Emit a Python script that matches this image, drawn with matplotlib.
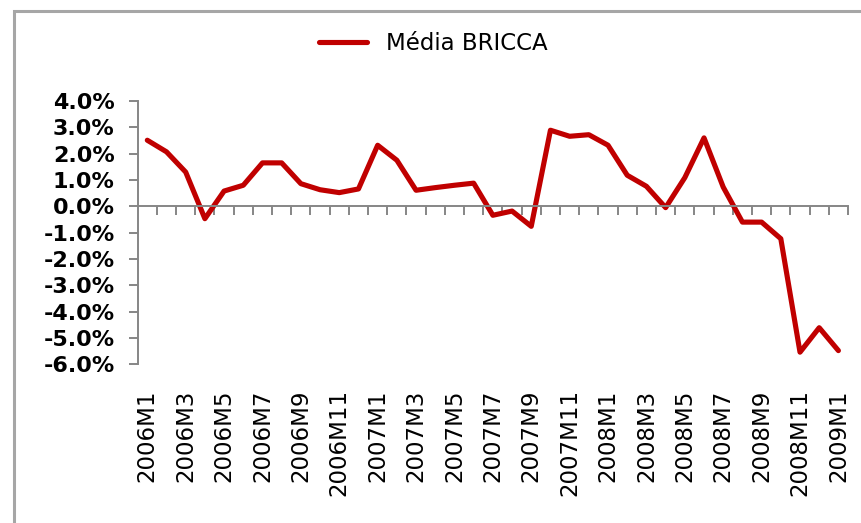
#!/usr/bin/env python
# coding=utf-8

import matplotlib
matplotlib.use('Agg')
import matplotlib.pyplot as plt
from matplotlib.patches import Rectangle

# monthly labels 2006M1 .. 2009M1
months = ['%dM%d' % (2006 + i // 12, i % 12 + 1) for i in range(37)]

# Média BRICCA, in percent
bricca = [2.51, 2.07, 1.30, -0.47, 0.58, 0.80, 1.65, 1.65, 0.86, 0.63,
          0.52, 0.66, 2.32, 1.75, 0.61, 0.71, 0.80, 0.88, -0.34, -0.18,
          -0.76, 2.89, 2.66, 2.72, 2.32, 1.18, 0.76, -0.05, 1.09, 2.60,
          0.73, -0.60, -0.60, -1.23, -5.54, -4.61, -5.48]

yticks = [4, 3, 2, 1, 0, -1, -2, -3, -4, -5, -6]

plt.rcParams['font.family'] = ['DejaVu Sans']

W, H = 861, 523
fig = plt.figure(figsize=(W / 100.0, H / 100.0), dpi=100)
ax = fig.add_axes([137.7 / W, 1 - 364.3 / H, (848.0 - 137.7) / W, (364.3 - 101.0) / H])

x = list(range(len(bricca)))
line, = ax.plot(x, bricca, color='#c00000', linewidth=3.7,
                solid_joinstyle='round', solid_capstyle='round',
                label=u'Média BRICCA', clip_on=False)

grey = '#868686'
ax.set_xlim(-0.5, len(bricca) - 0.5)
ax.set_ylim(-6, 4)

for s in ['top', 'right']:
    ax.spines[s].set_visible(False)
ax.spines['left'].set_color(grey)
ax.spines['left'].set_linewidth(1.4)
ax.spines['bottom'].set_position(('data', 0))
ax.spines['bottom'].set_color(grey)
ax.spines['bottom'].set_linewidth(1.4)

# category boundary ticks on the zero line
ax.set_xticks([i + 0.5 for i in x])
ax.tick_params(axis='x', direction='out', length=6.5, width=1.4,
               color=grey, labelbottom=False)

ax.set_yticks(yticks)
ax.set_yticklabels(['%.1f%%' % v for v in yticks], fontsize=16, fontweight='bold')
ax.tick_params(axis='y', direction='out', length=6.5, width=1.4,
               color=grey, pad=10)

# month labels along the bottom of the plot area
sec = ax.secondary_xaxis(0)
sec.set_xticks(x[::2])
sec.set_xticklabels(months[::2], rotation=90, fontsize=16.5, va='top')
sec.tick_params(length=0, pad=18)
sec.spines['bottom'].set_visible(False)

leg = fig.legend(handles=[line], loc='center left',
                 bbox_to_anchor=(298.0 / W, 1 - 44.0 / H),
                 frameon=False, fontsize=16.5, handlelength=2.1,
                 handletextpad=0.85)

fig.add_artist(Rectangle((13.5 / W, -0.1), 1.2, (1 - 10.7 / H) + 0.1,
                         transform=fig.transFigure, fill=False,
                         edgecolor='#a6a6a6', linewidth=2.2))

fig.savefig('out.png', dpi=100)
